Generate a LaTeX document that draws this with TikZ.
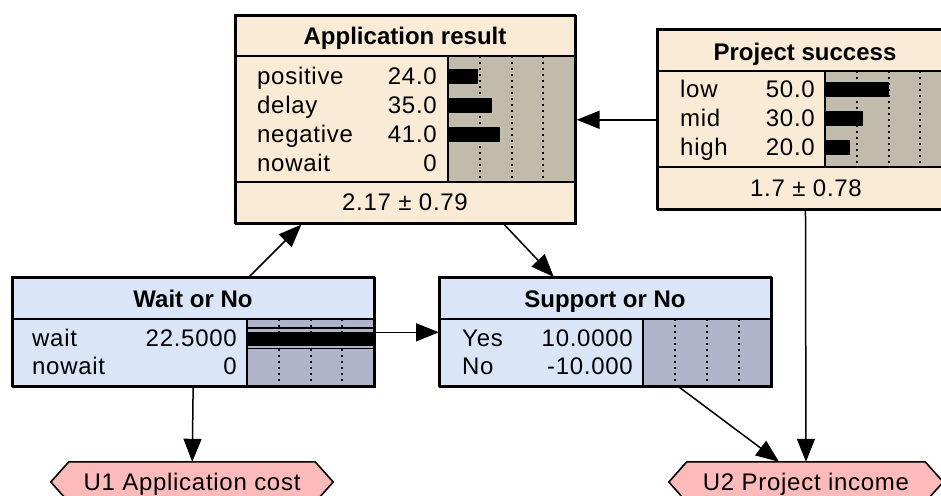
\documentclass[tikz,border=0pt]{standalone}
\usepackage{fontspec}
\setmainfont{Liberation Sans}[LetterSpace=3]
\newfontfamily\headfont{Liberation Sans}
\usetikzlibrary{arrows.meta,calc,backgrounds}

\definecolor{chance}{RGB}{250,235,215}
\definecolor{chancebar}{RGB}{192,187,170}
\definecolor{decision}{RGB}{218,230,247}
\definecolor{decisionbar}{RGB}{176,180,202}
\definecolor{utility}{RGB}{252,186,186}

\tikzset{
  every node/.style={font=\fontsize{24}{28}\selectfont, inner sep=0pt},
  box/.style={draw=black, line width=1.6pt, rectangle, anchor=north west},
  sep/.style={draw=black, line width=1.6pt},
  grid/.style={draw=black, line width=2pt, dash pattern=on 2pt off 4pt},
  bar/.style={fill=black},
  title/.style={font=\headfont\bfseries\fontsize{24}{28}\selectfont, anchor=base},
  state/.style={anchor=base west},
  val/.style={anchor=base east},
  stat/.style={anchor=base},
  utilbox/.style={rectangle, minimum height=40pt, text height=17pt, text depth=0pt},
  hexagon/.style={draw=black, line width=1.6pt, fill=utility},
  arr/.style={draw=black, line width=1.5pt, -{Triangle[length=23pt,width=18pt]}},
}

\begin{document}
\begin{tikzpicture}[x=1pt,y=-1pt]
\useasboundingbox (0,0) rectangle (941,495);
\clip (0,0) rectangle (941,495);

% ---------- Application result ----------
\node[box, fill=chance, minimum width=340pt, minimum height=208pt] (AR) at (235,15) {};
\fill[chancebar] (448,56) rectangle (575,182);
\foreach \gx in {479.75,511.5,543.25} \draw[grid] (\gx,56) -- (\gx,182);
\fill[bar] (448,68.5) rectangle ({448+0.24*127},83.5);
\fill[bar] (448,97.5) rectangle ({448+0.35*127},112.5);
\fill[bar] (448,126.5) rectangle ({448+0.41*127},141.5);
\draw[sep] (235,56) -- (575,56);
\draw[sep] (235,182) -- (575,182);
\draw[sep] (448,56) -- (448,182);
\node[title] (ARh) at (405,45) {Application result};
\node[state] (ARs1) at (257,84) {positive};
\node[val]   (ARv1) at (437,84) {24.0};
\node[state] (ARs2) at (257,113) {delay};
\node[val]   (ARv2) at (437,113) {35.0};
\node[state] (ARs3) at (257,142) {negative};
\node[val]   (ARv3) at (437,142) {41.0};
\node[state] (ARs4) at (257,171) {nowait};
\node[val]   (ARv4) at (437,171) {0};
\node[stat]  (ARm)  at (405,210) {2.17 ± 0.79};
\draw[box, fill=none] (235,15) rectangle (575,223);

% ---------- Project success ----------
\node[box, fill=chance, minimum width=295pt, minimum height=180pt] (PS) at (657,29) {};
\fill[chancebar] (825,71) rectangle (952,167);
\foreach \gx in {856.75,888.5,920.25} \draw[grid] (\gx,71) -- (\gx,167);
\fill[bar] (825,82) rectangle ({825+0.50*127},97);
\fill[bar] (825,111) rectangle ({825+0.30*127},126);
\fill[bar] (825,140) rectangle ({825+0.20*127},155);
\draw[sep] (657,71) -- (952,71);
\draw[sep] (657,167) -- (952,167);
\draw[sep] (825,71) -- (825,167);
\node[title] (PSh) at (805,60) {Project success};
\node[state] (PSs1) at (680,97) {low};
\node[val]   (PSv1) at (815,97) {50.0};
\node[state] (PSs2) at (680,126) {mid};
\node[val]   (PSv2) at (815,126) {30.0};
\node[state] (PSs3) at (680,155) {high};
\node[val]   (PSv3) at (815,155) {20.0};
\node[stat]  (PSm)  at (806,196) {1.7 ± 0.78};
\draw[box, fill=none] (657,29) rectangle (952,209);

% ---------- Wait or No ----------
\node[box, fill=decision, minimum width=362pt, minimum height=109pt] (W) at (12,277) {};
\fill[decisionbar] (247,319) rectangle (374,386);
\foreach \gx in {278.75,310.5,342.25} \draw[grid] (\gx,319) -- (\gx,386);
\draw[line width=1.3pt] (247,328) -- (374,328);
\draw[line width=1.3pt] (247,348.5) -- (374,348.5);
\fill[bar] (247,331.5) rectangle (374,345.5);
\draw[sep] (12,319) -- (374,319);
\draw[sep] (247,319) -- (247,386);
\node[title] (Wh) at (193,307) {Wait or No};
\node[state] (Ws1) at (32,346) {wait};
\node[val]   (Wv1) at (237,346) {22.5000};
\node[state] (Ws2) at (32,374) {nowait};
\node[val]   (Wv2) at (237,374) {0};
\draw[box, fill=none] (12,277) rectangle (374,386);

% ---------- Support or No ----------
\node[box, fill=decision, minimum width=332pt, minimum height=109pt] (S) at (439,277) {};
\fill[decisionbar] (643,319) rectangle (771,386);
\foreach \gx in {675,707,739} \draw[grid] (\gx,319) -- (\gx,386);
\draw[sep] (439,319) -- (771,319);
\draw[sep] (643,319) -- (643,386);
\node[title] (Sh) at (605,307) {Support or No};
\node[state] (Ss1) at (462,346) {Yes};
\node[val]   (Sv1) at (633,346) {10.0000};
\node[state] (Ss2) at (462,374) {No};
\node[val]   (Sv2) at (633,374) {-10.000};
\draw[box, fill=none] (439,277) rectangle (771,386);

% ---------- Utility nodes (hexagons) ----------
\node[utilbox, minimum width=282pt] (U1) at (192,482) {U1 Application cost};
\node[utilbox, minimum width=274pt] (U2) at (806,482) {U2 Project income};
\begin{pgfonlayer}{background}
\foreach \u in {U1,U2} {
  \draw[hexagon]
    (\u.west) -- ($(\u.north west)+(18,0)$) -- ($(\u.north east)+(-18,0)$)
    -- (\u.east) -- ($(\u.south east)+(-18,0)$) -- ($(\u.south west)+(18,0)$) -- cycle;
}
\end{pgfonlayer}

% ---------- Links ----------
\draw[arr] (PS) -- (AR);
\draw[arr] (W) -- (AR);
\draw[arr] (AR) -- (S);
\draw[arr] (W) -- (S);
\draw[arr] (W) -- (U1);
\draw[arr] (S) -- (U2);
\draw[arr] (PS) -- (U2);
\end{tikzpicture}
\end{document}
